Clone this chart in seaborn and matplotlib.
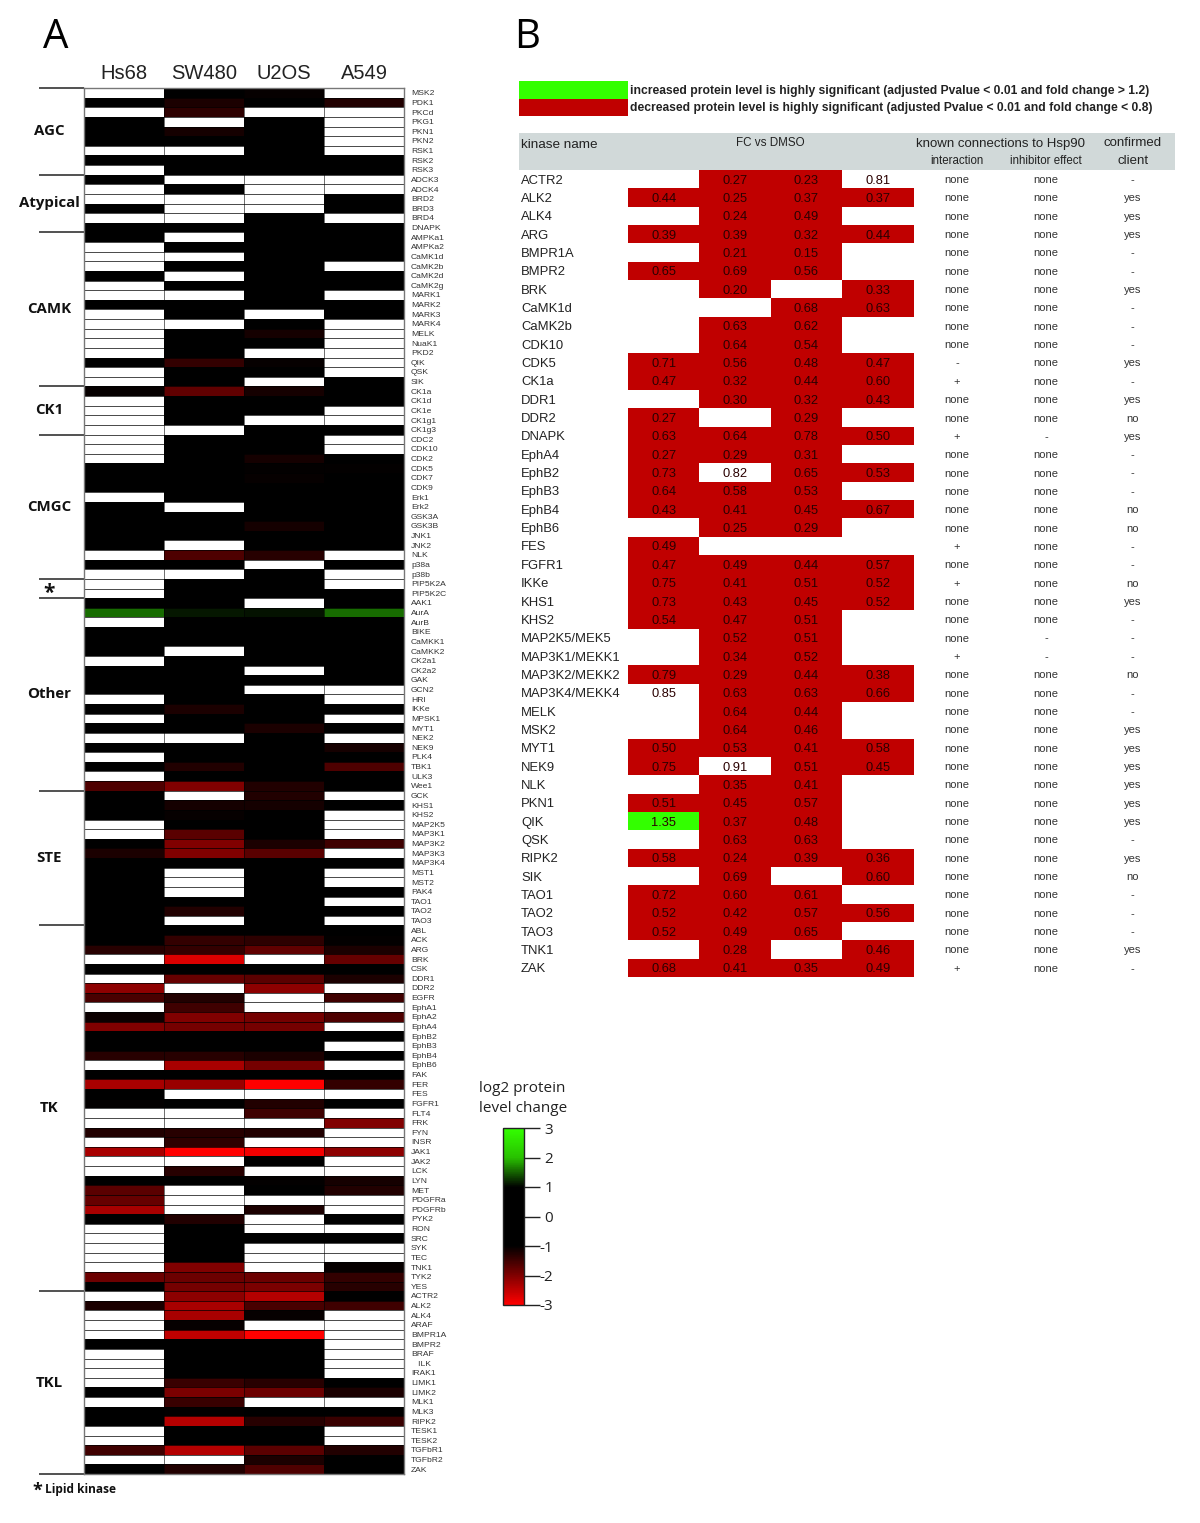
import numpy as np
import pandas as pd
import matplotlib
matplotlib.use('Agg')
import matplotlib.pyplot as plt
from matplotlib.colors import ListedColormap
from matplotlib.patches import Rectangle
import seaborn as sns

n = np.nan

cell_lines = ['Hs68', 'SW480', 'U2OS', 'A549']

# panel A, one table per kinase family: log2 change, nan = not detected
agc_names = ['MSK2', 'PDK1', 'PKCd', 'PKG1', 'PKN1', 'PKN2', 'RSK1', 'RSK2', 'RSK3']
agc_values = [[n, 0, -1.05, n], [0, -1.2, 0, -1.25], [n, -1.35, n, n], [0, n, 0, n], [0, -1.15, 0, n],
              [0, 0, 0, n], [n, n, 0, n], [0, 0, 0, 0], [n, 0, 0, 0]]

atypical_names = ['ADCK3', 'ADCK4', 'BRD2', 'BRD3', 'BRD4', 'DNAPK']
atypical_values = [[0, n, n, n], [n, 0, n, n], [n, n, n, 0], [0, n, n, 0], [n, n, 0, n], [0, 0, 0, 0]]

camk_names = ['AMPKa1', 'AMPKa2', 'CaMK1d', 'CaMK2b', 'CaMK2d', 'CaMK2g', 'MARK1', 'MARK2', 'MARK3', 'MARK4',
              'MELK', 'NuaK1', 'PKD2', 'QIK', 'QSK', 'SIK']
camk_values = [[0, n, 0, 0], [n, 0, 0, 0], [n, n, 0, 0], [n, 0, 0, n], [0, n, 0, 0], [n, 0, 0, 0], [n, n, 0, n],
               [0, 0, 0, 0], [n, 0, n, 0], [n, n, 0, n], [n, 0, -1.15, n], [n, 0, 0, n], [n, 0, n, n],
               [0, -1.4, -1.05, n], [n, 0, 0, n], [n, 0, n, 0]]

ck1_names = ['CK1a', 'CK1d', 'CK1e', 'CK1g1', 'CK1g3']
ck1_values = [[-1.05, -1.75, -1.15, 0], [n, 0, 0, 0], [n, 0, 0, n], [n, 0, n, n], [n, n, 0, 0]]

cmgc_names = ['CDC2', 'CDK10', 'CDK2', 'CDK5', 'CDK7', 'CDK9', 'Erk1', 'Erk2', 'GSK3A', 'GSK3B', 'JNK1', 'JNK2',
              'NLK', 'p38a', 'p38b']
cmgc_values = [[n, 0, 0, n], [n, 0, 0, n], [n, 0, -1.15, 0], [0, 0, -1.03, -1.03], [0, 0, -1.05, 0], [0, 0, 0, 0],
               [n, 0, 0, 0], [0, n, 0, 0], [0, 0, 0, 0], [0, 0, -1.15, 0], [0, 0, 0, 0], [0, n, 0, 0],
               [n, -1.6, -1.3, n], [0, 0, n, 0], [n, n, 0, n]]

lipid_names = ['PIP5K2A', 'PIP5K2C']
lipid_values = [[n, 0, 0, n], [n, 0, 0, 0]]

other_names = ['AAK1', 'AurA', 'AurB', 'BIKE', 'CaMKK1', 'CaMKK2', 'CK2a1', 'CK2a2', 'GAK', 'GCN2', 'HRI', 'IKKe',
               'MPSK1', 'MYT1', 'NEK2', 'NEK9', 'PLK4', 'TBK1', 'ULK3', 'Wee1']
other_values = [[0, 0, n, 0], [1.55, 1.12, 1.08, 1.55], [n, 0, 0, 0], [0, 0, 0, 0], [0, 0, 0, 0], [0, n, 0, 0],
                [n, 0, 0, 0], [0, 0, n, 0], [0, 0, 0, 0], [0, 0, n, n], [n, 0, 0, n], [0, -1.2, 0, 0],
                [n, 0, 0, n], [0, 0, -1.2, 0], [n, n, 0, n], [0, 0, 0, -1.15], [n, 0, 0, 0],
                [0, -1.25, 0, -1.6], [n, 0, 0, 0], [-1.6, -2.0, -1.25, 0]]

ste_names = ['GCK', 'KHS1', 'KHS2', 'MAP2K5', 'MAP3K1', 'MAP3K2', 'MAP3K3', 'MAP3K4', 'MST1', 'MST2', 'PAK4',
             'TAO1', 'TAO2', 'TAO3']
ste_values = [[0, n, -1.25, n], [0, -1.15, -1.15, 0], [0, -1.05, 0, n], [n, 0, 0, n], [n, -1.7, 0, n],
              [0, -2.0, -1.2, -1.5], [-1.2, -2.0, -1.7, n], [0, 0, 0, 0], [0, n, 0, n], [0, n, 0, n],
              [0, n, 0, 0], [0, 0, 0, n], [0, -1.25, 0, 0], [0, n, 0, n]]

tk_names = ['ABL', 'ACK', 'ARG', 'BRK', 'CSK', 'DDR1', 'DDR2', 'EGFR', 'EphA1', 'EphA2', 'EphA4', 'EphB2', 'EphB3',
            'EphB4', 'EphB6', 'FAK', 'FER', 'FES', 'FGFR1', 'FLT4', 'FRK', 'FYN', 'INSR', 'JAK1', 'JAK2', 'LCK',
            'LYN', 'MET', 'PDGFRa', 'PDGFRb', 'PYK2', 'RON', 'SRC', 'SYK', 'TEC', 'TNK1', 'TYK2', 'YES']
tk_values = [[0, 0, 0, 0], [0, -1.4, -1.35, -1.03], [-1.3, -1.4, -1.75, -1.2], [n, -2.7, n, -1.8], [0, 0, 0, 0],
             [n, -1.8, -1.7, -1.2], [-2.1, n, -2.1, n], [-1.55, -1.25, n, -1.5], [n, -1.5, n, n],
             [-1.1, -2.0, -1.9, -1.6], [-2.0, -1.9, -1.9, n], [0, 0, 0, 0], [0, 0, 0, n], [-1.3, -1.3, -1.2, 0],
             [n, -2.3, -1.9, n], [0, 0, 0, 0], [-2.3, -2.2, -3, -1.4], [0, n, n, n], [-1.03, 0, -1.25, 0],
             [n, n, -1.5, n], [n, n, n, -2.0], [-1.25, -1.3, -1.25, n], [n, -1.35, n, n], [-2.3, -3, -2.9, -2.1],
             [n, n, 0, n], [n, -1.3, n, n], [0, 0, -1.03, -1.15], [-1.7, n, 0, -1.25], [-1.8, n, n, n],
             [-2.3, n, -1.2, n], [0, -1.25, n, 0], [n, 0, n, n], [n, 0, 0, 0], [n, 0, n, n], [n, 0, n, n],
             [n, -2.0, n, -1.05], [-1.85, -1.85, -1.85, -1.4], [0, -1.9, -1.95, -1.3]]

tkl_names = ['ACTR2', 'ALK2', 'ALK4', 'ARAF', 'BMPR1A', 'BMPR2', 'BRAF', '   ILK', 'IRAK1', 'LIMK1', 'LIMK2', 'MLK1',
             'MLK3', 'RIPK2', 'TESK1', 'TESK2', 'TGFbR1', 'TGFbR2', 'ZAK']
tkl_values = [[n, -2.1, -2.4, 0], [-1.2, -2.3, -1.55, -1.5], [n, -2.3, -1.05, n], [n, -1.05, n, n], [n, -2.5, -3, n],
              [0, 0, 0, n], [n, 0, 0, n], [n, 0, 0, n], [n, 0, 0, n], [n, -1.45, -1.3, 0],
              [0, -1.95, -1.85, -1.2], [n, -1.45, n, n], [0, -1.03, 0, 0], [0, -2.4, -1.3, -1.45], [n, 0, 0, n],
              [n, 0, 0, n], [-1.5, -2.4, -1.7, -1.25], [n, n, -1.2, 0], [0, -1.25, -1.6, 0]]

families = [('AGC', agc_names, agc_values), ('Atypical', atypical_names, atypical_values),
            ('CAMK', camk_names, camk_values), ('CK1', ck1_names, ck1_values), ('CMGC', cmgc_names, cmgc_values),
            ('*', lipid_names, lipid_values), ('Other', other_names, other_values), ('STE', ste_names, ste_values),
            ('TK', tk_names, tk_values), ('TKL', tkl_names, tkl_values)]

cbar_ticks = [3, 2, 1, 0, -1, -2, -3]

# panel B
table_kinases = ['ACTR2', 'ALK2', 'ALK4', 'ARG', 'BMPR1A', 'BMPR2', 'BRK', 'CaMK1d', 'CaMK2b', 'CDK10', 'CDK5', 'CK1a',
                 'DDR1', 'DDR2', 'DNAPK', 'EphA4', 'EphB2', 'EphB3', 'EphB4', 'EphB6', 'FES', 'FGFR1', 'IKKe', 'KHS1',
                 'KHS2', 'MAP2K5/MEK5', 'MAP3K1/MEKK1', 'MAP3K2/MEKK2', 'MAP3K4/MEKK4', 'MELK', 'MSK2', 'MYT1', 'NEK9',
                 'NLK', 'PKN1', 'QIK', 'QSK', 'RIPK2', 'SIK', 'TAO1', 'TAO2', 'TAO3', 'TNK1', 'ZAK']
fc_hs68 = [n, .44, n, .39, n, .65, n, n, n, n, .71, .47, n, .27, .63, .27, .73, .64, .43, n, .49, .47, .75, .73, .54,
           n, n, .79, .85, n, n, .50, .75, n, .51, 1.35, n, .58, n, .72, .52, .52, n, .68]
fc_sw480 = [.27, .25, .24, .39, .21, .69, .20, n, .63, .64, .56, .32, .30, n, .64, .29, .82, .58, .41, .25, n, .49,
            .41, .43, .47, .52, .34, .29, .63, .64, .64, .53, .91, .35, .45, .37, .63, .24, .69, .60, .42, .49, .28, .41]
fc_u2os = [.23, .37, .49, .32, .15, .56, n, .68, .62, .54, .48, .44, .32, .29, .78, .31, .65, .53, .45, .29, n, .44,
           .51, .45, .51, .51, .52, .44, .63, .44, .46, .41, .51, .41, .57, .48, .63, .39, n, .61, .57, .65, n, .35]
fc_a549 = [.81, .37, n, .44, n, n, .33, .63, n, n, .47, .60, .43, n, .50, n, .53, n, .67, n, n, .57, .52, .52, n, n, n,
           .38, .66, n, n, .58, .45, n, n, n, n, .36, .60, n, .56, n, .46, .49]
interaction = ['none'] * 44
for name, mark in [('CDK5', '-'), ('CK1a', '+'), ('DNAPK', '+'), ('FES', '+'), ('IKKe', '+'), ('MAP3K1/MEKK1', '+'), ('ZAK', '+')]:
    interaction[table_kinases.index(name)] = mark
inhibitor = ['none'] * 44
for name in ['DNAPK', 'MAP2K5/MEK5', 'MAP3K1/MEKK1']:
    inhibitor[table_kinases.index(name)] = '-'
client = ['-', 'yes', 'yes', 'yes', '-', '-', 'yes', '-', '-', '-', 'yes', '-', 'yes', 'no', 'yes', '-', '-', '-', 'no',
          'no', '-', '-', 'no', 'yes', '-', '-', '-', 'no', '-', '-', 'yes', 'yes', 'yes', 'yes', 'yes', 'yes', '-',
          'yes', 'no', '-', '-', '-', 'yes', '-']

W, H = 1200, 1523
BODY = ['Liberation Sans', 'DejaVu Sans']
PANEL = ['Open Sans', 'DejaVu Sans']

sns.set_theme(style='white')
plt.rcParams['font.family'] = BODY


def px_axes(left, top, right, bottom):
    return fig.add_axes([left / W, 1 - bottom / H, (right - left) / W, (bottom - top) / H])


def px_text(x, y, s, **kw):
    kw.setdefault('ha', 'center')
    kw.setdefault('va', 'center')
    kw.setdefault('color', '#222222')
    fig.text(x / W, 1 - y / H, s, **kw)


fig = plt.figure(figsize=(W / 100, H / 100), dpi=100)

# ---------- panel A
names = [k for _, fam_names, _ in families for k in fam_names]
values = [row for _, _, fam_values in families for row in fam_values]
df = pd.DataFrame(values, index=names, columns=cell_lines)

# colours at -3, -2, -1, 0, 1, 2, 3
cmap = sns.blend_palette(['#ff0000', '#800000', '#000000', '#000000', '#000000', '#28c000', '#33ff00'],
                         n_colors=64, as_cmap=True)

ax = px_axes(84, 88, 404, 1474)
cax = px_axes(503, 1128, 524, 1305)
sns.heatmap(df, ax=ax, cmap=cmap, vmin=-3, vmax=3, cbar_ax=cax, cbar_kws={'ticks': cbar_ticks},
            xticklabels=True, yticklabels=True)
ax.set_facecolor('white')
ax.xaxis.tick_top()
ax.yaxis.tick_right()
ax.tick_params(axis='x', length=0, pad=3.5, labelsize=14.5, rotation=0, labelcolor='#222222')
ax.tick_params(axis='y', length=0, pad=5, labelsize=6.1, rotation=0, labelcolor='#333333')
# the rules only read on white cells, they vanish into the black ones
ax.hlines(np.arange(1, len(df)), 0, 4, color='black', lw=0.5)
ax.vlines(np.arange(1, 4), 0, len(df), color='black', lw=0.4)
for side in ax.spines:
    ax.spines[side].set_visible(True)
    ax.spines[side].set_color('#777777')
    ax.spines[side].set_linewidth(1)

# family dividers and labels, from the family sizes
start = 0
ax.hlines(0, -0.141, 0, color='#222222', lw=1.1, transform=ax.get_yaxis_transform(), clip_on=False)
for label, fam_names, _ in families:
    stop = start + len(fam_names)
    ax.hlines(stop, -0.141, 0, color='#222222', lw=1.1, transform=ax.get_yaxis_transform(), clip_on=False)
    size = 15 if label == '*' else 10.8
    shift = 0.5 if label == '*' else 0
    ax.text(-0.108, (start + stop) / 2 + shift, label, transform=ax.get_yaxis_transform(),
            ha='center', va='center', fontsize=size, fontweight='bold', family=PANEL, color='#111111')
    start = stop

px_text(56, 38, 'A', fontsize=29, family=PANEL, color='black')
px_text(527, 38, 'B', fontsize=29, family=PANEL, color='black')
px_text(37, 1491, '*', fontsize=13, fontweight='bold', family=PANEL, color='#111111')
px_text(45, 1489.5, 'Lipid kinase', ha='left', fontsize=8.6, fontweight='bold', family=PANEL, color='#111111')

# colour scale
cbar = ax.collections[0].colorbar
cbar.outline.set_visible(True)
cbar.outline.set_linewidth(1)
cbar.outline.set_edgecolor('#222222')
cbar.ax.yaxis.set_ticks(cbar_ticks)
cbar.ax.set_yticklabels([str(t) for t in cbar_ticks], family=PANEL, ha='right')
cbar.ax.tick_params(right=True, length=11.5, width=1, color='#222222', pad=9.5, labelsize=11, labelcolor='#222222')
px_text(522, 1088, 'log2 protein', fontsize=11, family=PANEL)
px_text(523, 1108, 'level change', fontsize=11, family=PANEL)

# ---------- panel B
fc = pd.DataFrame({'Hs68': fc_hs68, 'SW480': fc_sw480, 'U2OS': fc_u2os, 'A549': fc_a549}, index=table_kinases)
# white unless the fold change passes the thresholds in the key
levels = np.where(fc < 0.8, 1, 0) + np.where(fc > 1.2, 2, 0)
labels = fc.map(lambda v: '' if np.isnan(v) else f'{v:.2f}').values
red, green = '#c00000', '#33ff00'

# key and header band
fig.add_artist(Rectangle((519 / W, 1 - 98.5 / H), 109 / W, 17.5 / H, color=green, transform=fig.transFigure, lw=0))
fig.add_artist(Rectangle((519 / W, 1 - 116 / H), 109 / W, 17.5 / H, color=red, transform=fig.transFigure, lw=0))
fig.add_artist(Rectangle((519 / W, 1 - 170 / H), 656 / W, 37 / H, color='#d1d9d9', transform=fig.transFigure, lw=0))
px_text(630, 91, 'increased protein level is highly significant (adjusted Pvalue < 0.01 and fold change > 1.2)',
        ha='left', fontsize=8.7, fontweight='bold')
px_text(630, 108.5, 'decreased protein level is highly significant (adjusted Pvalue < 0.01 and fold change < 0.8)',
        ha='left', fontsize=8.7, fontweight='bold')

tax = px_axes(628, 170, 913.5, 977)
sns.heatmap(levels, ax=tax, cmap=ListedColormap(['white', red, green]), vmin=0, vmax=2, cbar=False,
            annot=labels, fmt='', annot_kws={'fontsize': 9.3, 'color': '#2a0000', 'va': 'center_baseline'},
            xticklabels=cell_lines, yticklabels=table_kinases)
tax.xaxis.tick_top()
tax.tick_params(axis='x', length=0, pad=2, labelsize=9.5, rotation=0, labelcolor='#222222')
tax.tick_params(axis='y', length=0, pad=77, labelsize=9.4, rotation=0, labelcolor='#222222')
for t in tax.get_yticklabels():
    t.set_ha('left')
    t.set_va('center_baseline')

for i in range(len(table_kinases)):
    y = i + 0.55
    for x_px, col in [(329, interaction), (418, inhibitor), (504.5, client)]:
        tax.text(x_px / 285.5, y, col[i], transform=tax.get_yaxis_transform(), ha='center', va='center',
                 fontsize=8, color='#333333')

px_text(521, 145, 'kinase name', ha='left', fontsize=9.7)
px_text(770, 143, 'FC vs DMSO', fontsize=8.4)
px_text(1001, 143.5, 'known connections to Hsp90', fontsize=9.5)
px_text(1133, 143.5, 'confirmed', fontsize=9.5)
px_text(957, 161.5, 'interaction', fontsize=8.3)
px_text(1046, 161.5, 'inhibitor effect', fontsize=8.3)
px_text(1133, 161.5, 'client', fontsize=9.5)

fig.savefig('out.png', dpi=100)
